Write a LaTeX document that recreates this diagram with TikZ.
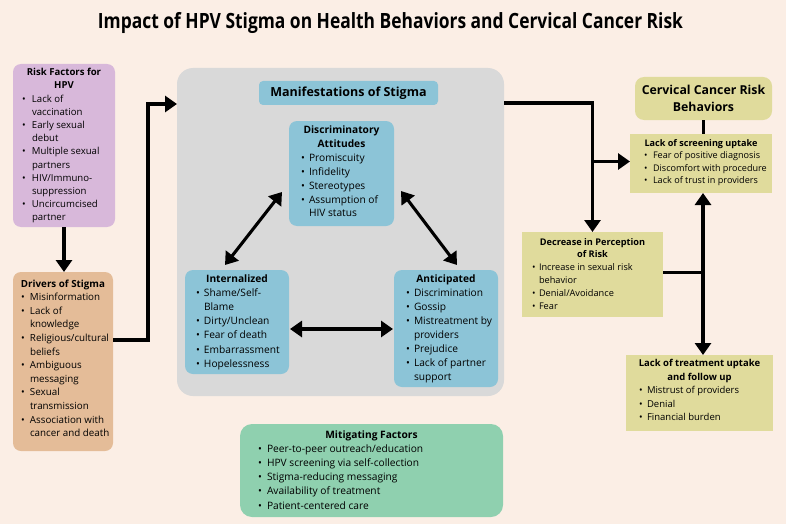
\documentclass[tikz,border=0pt]{standalone}
\usepackage{fontspec}
\setmainfont{Open Sans}
\usepackage{graphicx}
\usetikzlibrary{arrows.meta,calc}
\definecolor{bgc}{HTML}{FBEEE5}
\definecolor{pinkc}{HTML}{D8B8DA}
\definecolor{tanc}{HTML}{E4BC98}
\definecolor{greyc}{HTML}{D9D9D9}
\definecolor{bluec}{HTML}{8CC4D7}
\definecolor{olivec}{HTML}{E0DB9C}
\definecolor{greenc}{HTML}{8FD0AF}
\newlength\bpad \newlength\bgap
\newcommand\li[1]{\noindent\hspace*{\bpad}\makebox[\bgap][l]{\textbullet}#1\par}
\newcommand\ct[1]{\noindent\hspace*{\bpad}\hspace*{\bgap}#1\par}
\newcommand\hd[1]{{\centering\bfseries #1\par}}
\newcommand\txt[6]{\begin{minipage}[t]{#1pt}\fontsize{#2}{#3}\selectfont\setlength\bpad{#4pt}\setlength\bgap{#5pt}#6\end{minipage}}
\tikzset{
  box/.style={anchor=north west, inner sep=0pt, outer sep=0pt},
  txtnode/.style={anchor=base west, inner sep=0pt, outer sep=0pt},
  tip/.tip={Triangle[length=12pt,width=16pt]},
  arr/.style={line width=3.1pt, -tip},
  arrb/.style={line width=3.1pt, tip-tip},
  ln/.style={line width=3.1pt}
}
\begin{document}
\begin{tikzpicture}[x=1pt,y=-1pt]
\fill[bgc] (0,0) rectangle (786,524);
\useasboundingbox (0,0) rectangle (786,524);
\node[anchor=base] (title) at (390.5,28.5) {\resizebox{585pt}{\height}{\fontsize{21}{24}\selectfont\bfseries Impact of HPV Stigma on Health Behaviors and Cervical Cancer Risk}};

% boxes
\node[box, fill=pinkc, rounded corners=8pt, minimum width=102, minimum height=163] (risk) at (13,64) {};
\node[box, fill=tanc, rounded corners=8pt, minimum width=100, minimum height=179] (drivers) at (13,272) {};
\node[box, fill=greyc, rounded corners=16pt, minimum width=327, minimum height=328] (grey) at (177,68) {};
\node[box, fill=bluec, rounded corners=4pt, minimum width=179, minimum height=24] (manif) at (259,81) {};
\node[box, fill=bluec, rounded corners=8pt, minimum width=105, minimum height=105] (disc) at (289,121) {};
\node[box, fill=bluec, rounded corners=8pt, minimum width=104, minimum height=104] (intern) at (185,270) {};
\node[box, fill=bluec, rounded corners=8pt, minimum width=104, minimum height=117] (antic) at (394,270) {};
\node[box, fill=olivec, rounded corners=9pt, minimum width=137, minimum height=43] (cerv) at (635,77) {};
\node[box, fill=olivec, minimum width=142, minimum height=59] (screen) at (630,134) {};
\node[box, fill=olivec, minimum width=141, minimum height=85] (decr) at (522,232) {};
\node[box, fill=olivec, minimum width=147, minimum height=76] (treat) at (626,355) {};
\node[box, fill=greenc, rounded corners=12pt, minimum width=263, minimum height=93] (mitig) at (240,424) {};

% texts
\node[txtnode] (risktxt) at (13,75.7) {\txt{102}{9.6}{13.2}{9}{10}{%
\hd{Risk Factors for\\HPV}
\li{Lack of}\ct{vaccination}
\li{Early sexual}\ct{debut}
\li{Multiple sexual}\ct{partners}
\li{HIV/Immuno-}\ct{suppression}
\li{Uncircumcised}\ct{partner}}};
\node[txtnode] (driverstxt) at (13,287) {\txt{100}{9.8}{13.6}{8}{9}{%
\hd{Drivers of Stigma}
\li{Misinformation}
\li{Lack of}\ct{knowledge}
\li{Religious/cultural}\ct{beliefs}
\li{Ambiguous}\ct{messaging}
\li{Sexual}\ct{transmission}
\li{Association with}\ct{cancer and death}}};
\node[font=\fontsize{12.5}{15}\selectfont\bfseries] (maniftxt) at (manif.center) {Manifestations of Stigma};
\node[txtnode] (disctxt) at (289,133.5) {\txt{105}{10.2}{13.9}{12}{8}{%
\hd{Discriminatory\\Attitudes}
\li{Promiscuity}
\li{Infidelity}
\li{Stereotypes}
\li{Assumption of}\ct{HIV status}}};
\node[txtnode] (interntxt) at (185,282.5) {\txt{104}{10.2}{14.1}{11}{8}{%
\hd{Internalized}
\li{Shame/Self-}\ct{Blame}
\li{Dirty/Unclean}
\li{Fear of death}
\li{Embarrassment}
\li{Hopelessness}}};
\node[txtnode] (antictxt) at (394,282.5) {\txt{104}{10.2}{14}{12}{8}{%
\hd{Anticipated}
\li{Discrimination}
\li{Gossip}
\li{Mistreatment by}\ct{providers}
\li{Prejudice}
\li{Lack of partner}\ct{support}}};
\node[align=center, font=\fontsize{12.3}{17}\selectfont\bfseries] (cervtxt) at (cerv.center) {Cervical Cancer Risk\\Behaviors};
\node[txtnode] (screentxt) at (630,146) {\txt{142}{9.1}{12.6}{14}{9}{%
\hd{Lack of screening uptake}
\li{Fear of positive diagnosis}
\li{Discomfort with procedure}
\li{Lack of trust in providers}}};
\node[txtnode] (decrtxt) at (522,245) {\txt{141}{9.2}{12.8}{10}{7}{%
\hd{Decrease in Perception\\of Risk}
\li{Increase in sexual risk}\ct{behavior}
\li{Denial/Avoidance}
\li{Fear}}};
\node[txtnode] (treattxt) at (626,366.5) {\txt{147}{9.5}{13.5}{13}{8}{%
\hd{Lack of treatment uptake\\and follow up}
\li{Mistrust of providers}
\li{Denial}
\li{Financial burden}}};
\node[txtnode] (mitigtxt) at (240,438) {\txt{263}{10.2}{14.2}{18}{9}{%
\hd{Mitigating Factors}
\li{Peer-to-peer outreach/education}
\li{HPV screening via self-collection}
\li{Stigma-reducing messaging}
\li{Availability of treatment}
\li{Patient-centered care}}};

% connectors
\draw[arr] (risk.south) -- (risk.south |- drivers.north);
\coordinate (dout) at ($(drivers.north east)+(0,68)$);
\coordinate (gin) at ($(grey.north west)+(0,36)$);
\draw[arr] (dout) -- ++(35,0) |- (gin);
\coordinate (gout) at ($(grey.north east)+(0,35)$);
\draw[arr] (gout) -| (decr.north);
\coordinate (br) at ($(decr.north |- screen.west)+(0,-2)$);
\draw[arr] (br) -- (br -| screen.west);
\draw[ln] (cerv.south) -- (cerv.south |- screen.north);
\coordinate (jn) at ($(decr.east)+(40,-2)$);
\draw[ln] (decr.east |- jn) -- (jn);
\draw[arr] (jn) -- (jn |- screen.south);
\draw[arr] (jn) -- (jn |- treat.north);
\draw[arrb] ($(disc.north west)+(-7,71)$) -- ($(intern.north west)+(40,-5)$);
\draw[arrb] ($(disc.north east)+(7,70)$) -- ($(antic.north west)+(63,-5)$);
\draw[arrb] ($(intern.north east)+(1,59)$) -- ($(antic.north west)+(-1,59)$);
\end{tikzpicture}
\end{document}
